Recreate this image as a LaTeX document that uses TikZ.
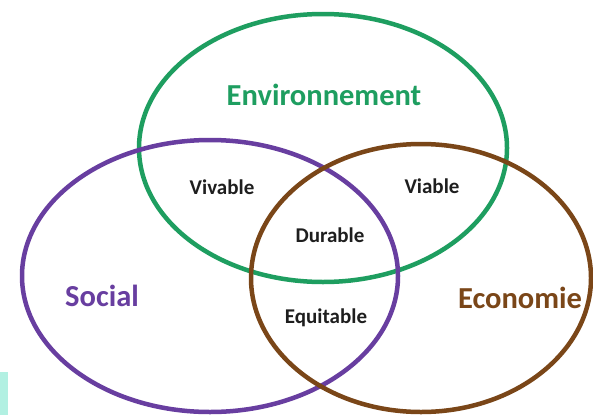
\documentclass[tikz,border=0pt]{standalone}
\usepackage{fontspec}
\setmainfont{Carlito}
\usetikzlibrary{positioning}
\definecolor{envgreen}{RGB}{30,158,96}
\definecolor{socpurple}{RGB}{104,62,160}
\definecolor{ecobrown}{RGB}{122,70,24}
\definecolor{labgray}{RGB}{30,30,30}
\definecolor{tabcyan}{RGB}{178,240,226}

\begin{document}
\begin{tikzpicture}[x=1pt, y=-1pt,
  ring/.style={line width=4.5pt},
  bigword/.style={font=\bfseries\fontsize{30.5}{33}\selectfont, inner sep=0pt},
  smallword/.style={font=\bfseries\fontsize{21}{23}\selectfont, text=labgray, inner sep=0pt}]
\useasboundingbox[fill=white] (0,0) rectangle (593,415);
\fill[tabcyan] (0,372) rectangle (8,415);
% Circles:
\coordinate (env) at (323,148);
\coordinate (soc) at (210,276);
\coordinate (eco) at (421,278);
\draw[ring, envgreen] (env) ellipse [x radius=184, y radius=134];
\draw[ring, socpurple] (soc) ellipse [x radius=188, y radius=136];
\draw[ring, ecobrown] (eco) ellipse [x radius=170, y radius=134];
% Labels:
\node[bigword, text=envgreen] (envlabel) at (324,95) {Environnement};
\node[bigword, text=socpurple] (soclabel) at (102,296) {Social};
\node[bigword, text=ecobrown] (ecolabel) at (520,298) {Economie};
\node[smallword] (vivable) at (222,187) {Vivable};
\node[smallword] (viable) at (432,186) {Viable};
\node[smallword] (durable) at (330,235) {Durable};
\node[smallword] (equitable) at (326,318) {Equitable};
\end{tikzpicture}
\end{document}
